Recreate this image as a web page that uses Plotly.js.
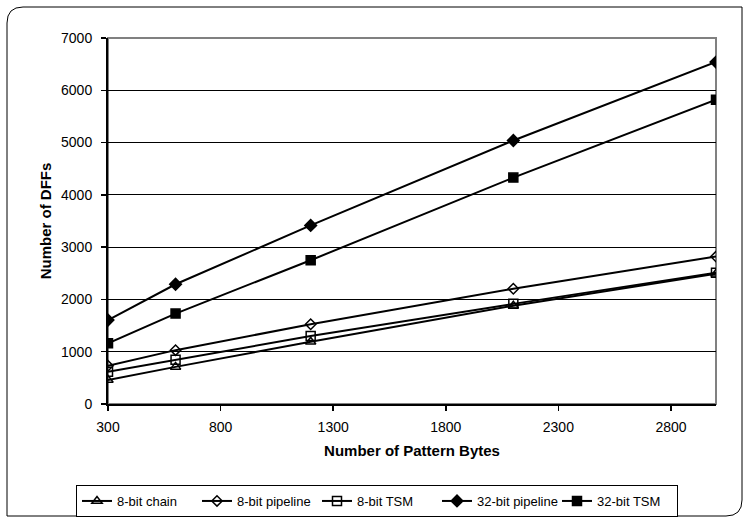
<!DOCTYPE html>
<html>
<head>
<meta charset="utf-8">
<script src="https://cdn.plot.ly/plotly-3.0.1.min.js"></script>
<style>
  html, body { margin: 0; padding: 0; background: #ffffff; }
  #chart { width: 745px; height: 520px; }
</style>
</head>
<body>
<div id="chart"></div>
<script>
// Data
const patternBytes = [300, 600, 1200, 2100, 3000];
const chain8 = [460, 710, 1190, 1880, 2490];
const pipeline8 = [730, 1030, 1525, 2205, 2820];
const tsm8 = [615, 845, 1300, 1915, 2510];
const pipeline32 = [1605, 2290, 3415, 5040, 6540];
const tsm32 = [1160, 1730, 2750, 4330, 5820];
const seriesNames = ['8-bit chain', '8-bit pipeline', '8-bit TSM', '32-bit pipeline', '32-bit TSM'];
const xTicks = [300, 800, 1300, 1800, 2300, 2800];
const yTicks = [0, 1000, 2000, 3000, 4000, 5000, 6000, 7000];

const lineStyle = { color: '#000000', width: 2 };
function mk(symbol, size) {
  return { symbol: symbol, size: size, color: '#000000',
           line: { color: '#000000', width: 1.5 } };
}
const traces = [
  { x: patternBytes, y: chain8, name: seriesNames[0], mode: 'lines+markers',
    line: lineStyle, marker: mk('triangle-up-open', 9) },
  { x: patternBytes, y: pipeline8, name: seriesNames[1], mode: 'lines+markers',
    line: lineStyle, marker: mk('diamond-open', 8) },
  { x: patternBytes, y: tsm8, name: seriesNames[2], mode: 'lines+markers',
    line: lineStyle, marker: mk('square-open', 9) },
  { x: patternBytes, y: pipeline32, name: seriesNames[3], mode: 'lines+markers',
    line: lineStyle, marker: mk('diamond', 9) },
  { x: patternBytes, y: tsm32, name: seriesNames[4], mode: 'lines+markers',
    line: lineStyle, marker: mk('square', 9) }
];

// Layout geometry (pixels)
const W = 745, H = 520;
const L = 108, R = 716, T = 38, B = 404;
const pw = R - L, ph = B - T;
function px(x) { return (x - L) / pw; }
function py(y) { return (B - y) / ph; }
// rounded outer border path in paper coords
const bx0 = 7, by0 = 7, bx1 = 742, by1 = 516, rad = 16;
const borderPath =
  'M ' + px(bx0 + rad) + ',' + py(by0) +
  ' L ' + px(bx1) + ',' + py(by0) +
  ' L ' + px(bx1) + ',' + py(by1 - rad) +
  ' Q ' + px(bx1) + ',' + py(by1) + ' ' + px(bx1 - rad) + ',' + py(by1) +
  ' L ' + px(bx0) + ',' + py(by1) +
  ' L ' + px(bx0) + ',' + py(by0 + rad) +
  ' Q ' + px(bx0) + ',' + py(by0) + ' ' + px(bx0 + rad) + ',' + py(by0) + ' Z';

const fam = '"Liberation Sans", Arial, sans-serif';
const tickFont = { family: fam, size: 14, color: '#000000' };
const titleFont = { family: fam, size: 15, color: '#000000' };
const legendFont = { family: fam, size: 13, color: '#000000' };

const layout = {
  width: W, height: H,
  margin: { l: L, r: W - R, t: T, b: H - B, pad: 0, autoexpand: false },
  paper_bgcolor: '#ffffff',
  plot_bgcolor: '#ffffff',
  font: tickFont,
  showlegend: true,
  xaxis: {
    range: [300, 3000],
    tickvals: xTicks,
    ticktext: xTicks.map(String),
    showgrid: false,
    zeroline: false,
    automargin: false,
    showline: true, linecolor: '#000000', linewidth: 2,
    ticks: 'outside', ticklen: 5, tickwidth: 1.5, tickcolor: '#000000',
    tickfont: tickFont,
    ticklabelstandoff: 4,
    title: { text: '<b>Number of Pattern Bytes</b>', font: titleFont, standoff: 12 }
  },
  yaxis: {
    range: [0, 7000],
    tickvals: yTicks,
    ticktext: yTicks.map(String),
    showgrid: true, gridcolor: '#000000', gridwidth: 1,
    zeroline: false,
    automargin: false,
    showline: true, linecolor: '#000000', linewidth: 2,
    ticks: 'outside', ticklen: 5, tickwidth: 1.5, tickcolor: '#000000',
    tickfont: tickFont,
    ticklabelstandoff: 6,
    title: { text: '<b>Number of DFFs</b>', font: titleFont, standoff: 6 }
  },
  legend: {
    orientation: 'h',
    x: px(377), xanchor: 'center',
    y: py(485), yanchor: 'top',
    bordercolor: '#000000', borderwidth: 1,
    bgcolor: '#ffffff',
    font: legendFont,
    itemwidth: 30,
    entrywidth: 75,
    tracegroupgap: 0
  },
  shapes: [
    { type: 'rect', xref: 'paper', yref: 'paper', x0: 0, x1: 1, y0: 0, y1: 1,
      line: { color: '#808080', width: 2 }, layer: 'below' },
    { type: 'path', xref: 'paper', yref: 'paper', path: borderPath,
      line: { color: '#000000', width: 1 }, layer: 'below' }
  ]
};

Plotly.newPlot('chart', traces, layout, { displayModeBar: false, staticPlot: true });
</script>
</body>
</html>
